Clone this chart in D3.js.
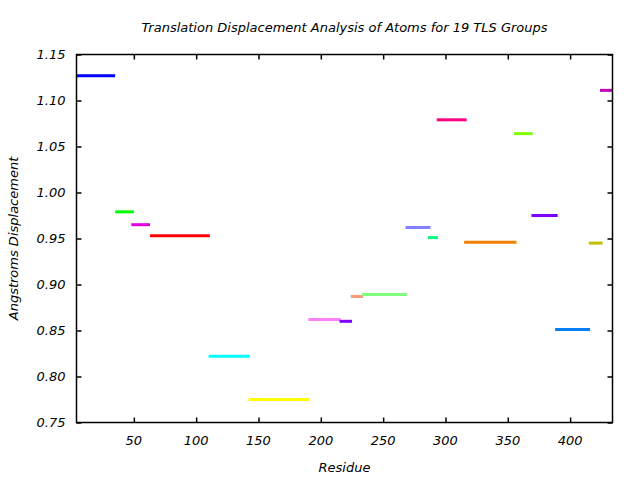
<!DOCTYPE html>
<html><head><meta charset="utf-8">
<script src="https://cdn.jsdelivr.net/npm/d3@7"></script>
<style>
body{margin:0;background:#fff;}
text{font-family:"DejaVu Sans","Open Sans",sans-serif;font-style:italic;}
</style></head>
<body>
<svg id="chart" width="640" height="480"></svg>
<script>
const groupStart = [4, 35, 48, 63, 110, 142, 190, 215, 224, 233, 268, 286, 293, 315, 355, 369, 388, 415, 424];
const groupEnd   = [35, 50, 63, 111, 143, 191, 216, 225, 234, 269, 288, 294, 317, 357, 370, 390, 416, 426, 434];
const displacement = [1.127, 0.979, 0.965, 0.953, 0.822, 0.775, 0.862, 0.860, 0.887, 0.889, 0.962, 0.951, 1.079, 0.946, 1.064, 0.975, 0.851, 0.945, 1.111];
const groupColors = ["#0000ff","#00ff00","#e000e0","#ff0000","#00ffff","#ffff00","#ff80ff","#8000ff","#ff9980","#80ff80","#8080ff","#00ff80","#ff0080","#f08000","#80ff00","#8000ff","#0080ff","#c0c000","#c000c0"];
const xTicks = [50, 100, 150, 200, 250, 300, 350, 400];
const yTicks = [0.75, 0.80, 0.85, 0.90, 0.95, 1.00, 1.05, 1.10, 1.15];
const titleText = "Translation Displacement Analysis of Atoms for 19 TLS Groups";
const xLabel = "Residue";
const yLabel = "Angstroms Displacement";

const svg = d3.select("#chart");
const L = 76.5, R = 612.5, T = 54.5, B = 422.5;
const x = d3.scaleLinear().domain([4, 434]).range([L, R]);
const y = d3.scaleLinear().domain([0.75, 1.15]).range([B, T]);

// segments
svg.append("g").selectAll("line").data(displacement).join("line")
  .attr("x1", (d,i)=>x(groupStart[i]))
  .attr("x2", (d,i)=>x(groupEnd[i]))
  .attr("y1", d=>y(d)).attr("y2", d=>y(d))
  .attr("stroke", (d,i)=>groupColors[i])
  .attr("stroke-width", 3);

// axes with inward ticks
const tl = 5;
const gBottom = svg.append("g").attr("transform",`translate(0,${B})`)
  .call(d3.axisTop(x).tickValues(xTicks).tickSize(tl).tickFormat(""));
const gTop = svg.append("g").attr("transform",`translate(0,${T})`)
  .call(d3.axisBottom(x).tickValues(xTicks).tickSize(tl).tickFormat(""));
const gLeft = svg.append("g").attr("transform",`translate(${L},0)`)
  .call(d3.axisRight(y).tickValues(yTicks).tickSize(tl).tickFormat(""));
const gRight = svg.append("g").attr("transform",`translate(${R},0)`)
  .call(d3.axisLeft(y).tickValues(yTicks).tickSize(tl).tickFormat(""));
[gBottom,gTop,gLeft,gRight].forEach(g=>{
  g.select(".domain").remove();
  g.selectAll(".tick line").attr("stroke","#000").attr("stroke-width",1.5);
});
svg.append("rect").attr("x",L).attr("y",T).attr("width",R-L).attr("height",B-T)
  .attr("fill","none").attr("stroke","#000").attr("stroke-width",1.5);

// tick labels
svg.append("g").selectAll("text").data(xTicks).join("text")
  .attr("x", d=>x(d)).attr("y", B+22).attr("text-anchor","middle")
  .attr("font-size",13).text(d=>d);
svg.append("g").selectAll("text").data(yTicks).join("text")
  .attr("x", L-11).attr("y", d=>y(d)+4).attr("text-anchor","end")
  .attr("font-size",13).text(d=>d3.format(".2f")(d));

svg.append("text").attr("x",(L+R)/2).attr("y",32).attr("text-anchor","middle")
  .attr("font-size",13).text(titleText);
svg.append("text").attr("x",(L+R)/2).attr("y",472).attr("text-anchor","middle")
  .attr("font-size",13).text(xLabel);
svg.append("text").attr("transform",`translate(18,${(T+B)/2}) rotate(-90)`)
  .attr("text-anchor","middle").attr("font-size",13).text(yLabel);
</script>
</body></html>
